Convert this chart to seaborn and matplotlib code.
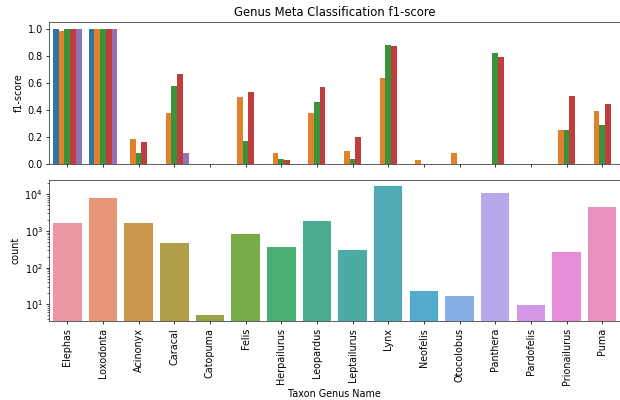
import numpy as np
import pandas as pd
import matplotlib
matplotlib.use("Agg")
import matplotlib.pyplot as plt
import seaborn as sns

genera = ["Elephas", "Loxodonta", "Acinonyx", "Caracal", "Catopuma", "Felis",
          "Herpailurus", "Leopardus", "Leptailurus", "Lynx", "Neofelis",
          "Otocolobus", "Panthera", "Pardofelis", "Prionailurus", "Puma"]

models = ["model 1", "model 2", "model 3", "model 4", "model 5"]
f1_model1 = [1.00, 1.00, 0.0, 0.0, 0.0, 0.0, 0.0, 0.0, 0.0, 0.0, 0.0, 0.0, 0.0, 0.0, 0.0, 0.0]
f1_model2 = [0.98, 0.995, 0.18, 0.376, 0.0, 0.495, 0.077, 0.376, 0.09, 0.637, 0.025, 0.082, 0.0, 0.0, 0.251, 0.39]
f1_model3 = [0.995, 1.00, 0.082, 0.575, 0.0, 0.167, 0.032, 0.46, 0.035, 0.878, 0.0, 0.0, 0.821, 0.0, 0.246, 0.286]
f1_model4 = [0.995, 1.00, 0.162, 0.664, 0.0, 0.532, 0.025, 0.565, 0.197, 0.873, 0.0, 0.0, 0.791, 0.0, 0.502, 0.44]
f1_model5 = [1.00, 1.00, 0.0, 0.077, 0.0, 0.0, 0.0, 0.0, 0.0, 0.0, 0.0, 0.0, 0.0, 0.0, 0.0, 0.0]

counts = [1690, 8110, 1620, 461, 5, 828, 359, 1835, 303, 17200, 23, 17, 11100, 9.6, 267, 4610]

f1_df = pd.DataFrame({
    "genus": genera * 5,
    "model": sum([[m] * len(genera) for m in models], []),
    "f1": f1_model1 + f1_model2 + f1_model3 + f1_model4 + f1_model5,
})
cnt_df = pd.DataFrame({"genus": genera, "count": counts})

s = 0.695
plt.rcParams.update({
    "font.size": 10 * s,
    "axes.linewidth": 0.8 * s,
    "xtick.major.size": 3.5 * s, "ytick.major.size": 3.5 * s,
    "xtick.major.width": 0.8 * s, "ytick.major.width": 0.8 * s,
    "xtick.minor.size": 2 * s, "ytick.minor.size": 2 * s,
    "xtick.minor.width": 0.6 * s, "ytick.minor.width": 0.6 * s,
    "xtick.major.pad": 3.5 * s, "ytick.major.pad": 3.5 * s,
    "axes.labelpad": 4 * s,
    "axes.titlepad": 6 * s,
    "axes.edgecolor": "#333333",
})
fig = plt.figure(figsize=(6.2, 4.0), dpi=100)
ax1 = fig.add_axes([0.0798, 0.591, 0.9202, 0.354])
ax2 = fig.add_axes([0.0798, 0.1975, 0.9202, 0.3525], sharex=ax1)

sns.barplot(data=f1_df, x="genus", y="f1", hue="model", ax=ax1, legend=False)
ax1.set_title("Genus Meta Classification f1-score", fontsize=12 * s)
ax1.set_ylabel("f1-score")
ax1.set_xlabel("")
ax1.tick_params(axis="x", labelbottom=False)

sns.barplot(data=cnt_df, x="genus", y="count", hue="genus", ax=ax2, legend=False,
            palette=sns.husl_palette(len(genera), l=.7))
ax2.set_yscale("log")
ax2.set_ylim(3.5, 24500)
ax2.set_ylabel("count")
ax2.set_xlabel("Taxon Genus Name")
ax2.tick_params(axis="x", rotation=90)

fig.savefig("out.png", dpi=100)
